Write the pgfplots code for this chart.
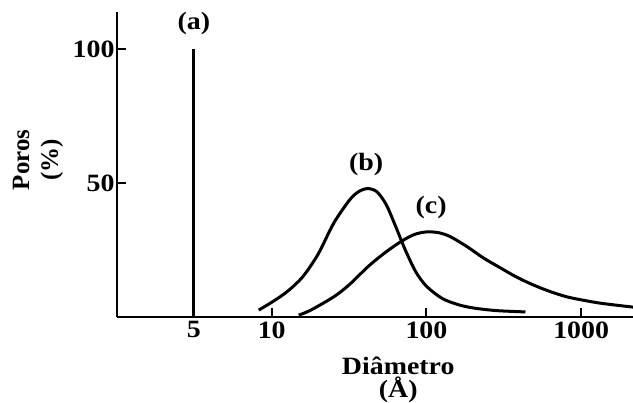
\documentclass[border=0pt]{standalone}
\usepackage{fontspec}
\setmainfont{Liberation Serif}
\newfontfamily\hfont[FakeStretch=1.12]{Liberation Serif}
\usepackage{pgfplots}
\pgfplotsset{compat=1.18}
\begin{document}
\begin{tikzpicture}
\useasboundingbox (-117bp,-86bp) rectangle (516bp,317bp);
\begin{axis}[
  at={(0,0)}, anchor=south west,
  scale only axis, width=516bp, height=305bp,
  xmin=0, xmax=3.335, ymin=0, ymax=114,
  axis lines=left,
  axis line style={-, line width=2.6bp},
  tick align=inside,
  major tick length=9bp,
  every tick/.append style={black, line width=2bp},
  xtick={0.497,1,2,3}, xticklabels={5,10,100,1000},
  ytick={50,100}, yticklabels={50,100},
  xticklabel style={font=\hfont\fontsize{25}{27}\selectfont\bfseries, yshift=-1bp},
  yticklabel style={font=\hfont\fontsize{25}{27}\selectfont\bfseries, xshift=1bp},
  xlabel={Diâmetro\\(Å)},
  xlabel style={font=\hfont\fontsize{25}{23}\selectfont\bfseries, align=center, at={(axis description cs:0.545,-0.207)}, anchor=center},
  ylabel={Poros\\(\%)},
  ylabel style={font=\fontsize{25}{29}\selectfont\bfseries, align=center, at={(axis description cs:-0.153,0.515)}, anchor=center, rotate=0},
]
\addplot[black, line width=3bp] coordinates {(0.497,0) (0.497,100)};
\addplot[black, line width=3bp, smooth] coordinates {
(0.916,2.6) (1.0,5.5) (1.1,9.5) (1.2,15) (1.3,23.5) (1.4,35) (1.5,43.5) (1.56,46.8)
(1.62,48) (1.68,46.8) (1.74,42) (1.8,34) (1.86,25.5) (1.93,17) (2.0,11.5) (2.1,7)
(2.2,4.7) (2.3,3.4) (2.45,2.4) (2.64,1.9)};
\addplot[black, line width=3bp, smooth] coordinates {
(1.174,0.7) (1.25,2.5) (1.4,7.5) (1.5,12) (1.62,18.7) (1.72,23.5) (1.83,28) (1.92,30.8)
(2.0,31.8) (2.08,31.5) (2.155,30) (2.265,26.2) (2.37,22) (2.48,18.3) (2.58,15) (2.69,12)
(2.8,9.5) (2.91,7.5) (3.02,6.2) (3.12,5.2) (3.23,4.4) (3.335,3.7)};
\node[font=\hfont\fontsize{25}{27}\selectfont\bfseries] at (axis cs:0.497,109.7) {(a)};
\node[font=\hfont\fontsize{25}{27}\selectfont\bfseries] at (axis cs:1.61,57) {(b)};
\node[font=\hfont\fontsize{25}{27}\selectfont\bfseries] at (axis cs:2.03,40.8) {(c)};
\pgfplotsinvokeforeach{1,2,3}{\draw[black, line width=2bp] (axis cs:#1,0) -- ++(0,8bp);}
\pgfplotsinvokeforeach{50,100}{\draw[black, line width=2bp] (axis cs:0,#1) -- ++(9bp,0);}
\end{axis}
\end{tikzpicture}
\end{document}
